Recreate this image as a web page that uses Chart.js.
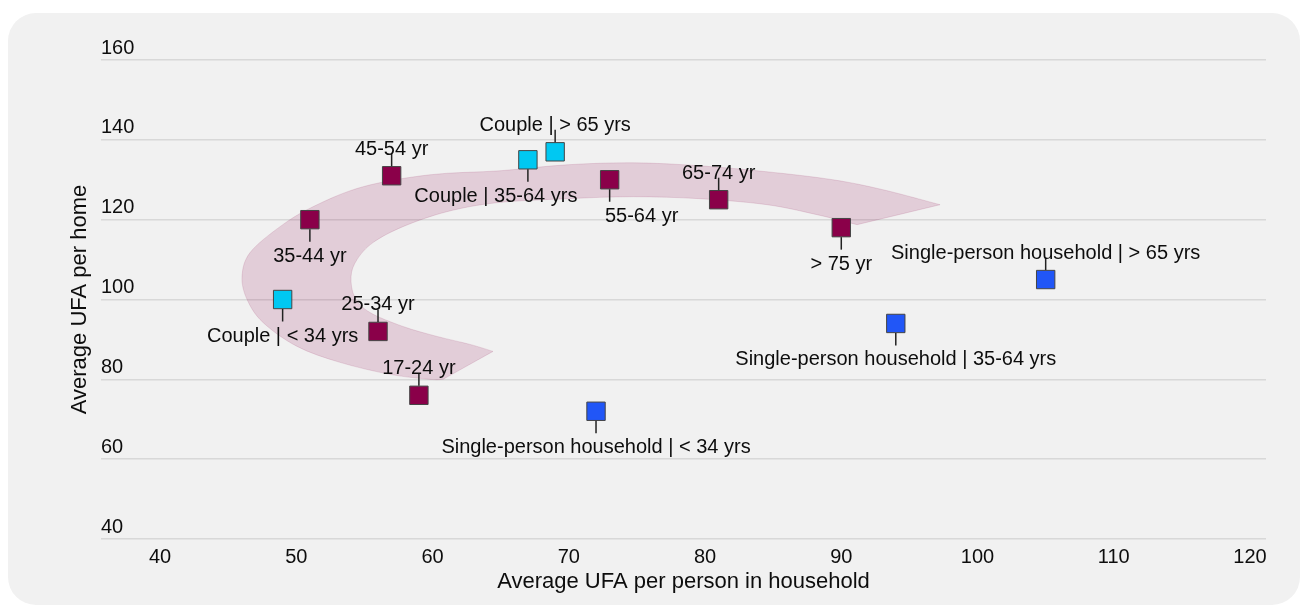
<!DOCTYPE html>
<html>
<head>
<meta charset="utf-8">
<script src="https://cdn.jsdelivr.net/npm/chart.js@4.4.1/dist/chart.umd.min.js"></script>
<style>
  html, body { margin: 0; padding: 0; background: #ffffff; width: 1300px; height: 607px; overflow: hidden; }
  .card { position: absolute; left: 8px; top: 13px; width: 1292px; height: 592px; background: #f1f1f1; border-radius: 28px; }
  #chart { position: absolute; left: 0; top: 0; }
</style>
</head>
<body>
<div class="card"></div>
<canvas id="chart" width="1300" height="607"></canvas>
<script>
// Age groups of the main occupant
const ageGroups      = ['17-24 yr', '25-34 yr', '35-44 yr', '45-54 yr', '55-64 yr', '65-74 yr', '> 75 yr'];
const ageUfaPerson   = [59, 56, 51, 57, 73, 81, 90];
const ageUfaHome     = [76, 92, 120, 131, 130, 125, 118];

// Couples by age
const coupleGroups    = ['Couple | < 34 yrs', 'Couple | 35-64 yrs', 'Couple | > 65 yrs'];
const coupleUfaPerson = [49, 67, 69];
const coupleUfaHome   = [100, 135, 137];

// Single-person households by age
const singleGroups    = ['Single-person household | < 34 yrs', 'Single-person household | 35-64 yrs', 'Single-person household | > 65 yrs'];
const singleUfaPerson = [72, 94, 105];
const singleUfaHome   = [72, 94, 105];

// Axis ticks
const xTicks = [40, 50, 60, 70, 80, 90, 100, 110, 120];
const yTicks = [40, 60, 80, 100, 120, 140, 160];

// Where each point's label sits (above / below the marker) and its sideways shift in px
const ageLabelSide    = ['above', 'above', 'below', 'above', 'below', 'above', 'below'];
const ageLabelShift   = [0, 0, 0, 0, 32, 0, 0];
const coupleLabelSide  = ['below', 'below', 'above'];
const coupleLabelShift = [0, -32, 0];
const singleLabelSide  = ['below', 'below', 'above'];
const singleLabelShift = [0, 0, 0];

// Life-course ribbon, outlined in axis units (UFA per person, UFA per home)
const ribbonOuter = [
  [97.25, 123.75], [93.06, 127.5], [89.39, 130], [84.55, 132], [79.63, 133.5], [74.72, 134.25],
  [69.87, 133.75], [64.95, 132.25], [59.82, 131.25], [54.9, 128.25], [51.23, 123.25], [48.81, 118.25],
  [46.61, 111.75], [46.02, 105.75], [46.39, 100], [47.56, 94.25], [50.06, 88.25], [53.21, 84.25],
  [56.88, 81.25], [59.82, 80], [60.77, 80]
];
const ribbonInner = [
  [64.44, 87], [62.75, 88.75], [60.33, 90.75], [57.83, 93.25], [55.41, 96.75], [54.3, 100.5],
  [54.02, 105.75], [54.46, 110], [55.63, 114.25], [57.83, 118.25], [61.06, 122], [64.73, 124.25],
  [69.87, 125.25], [74.72, 125.75], [79.63, 125.25], [84.55, 123.75], [88.22, 121.25], [91.16, 118.75]
];

const FONT = "'Liberation Sans', Arial, sans-serif";
const TEXT = '#0d0d0d';

function points(xs, ys, names) {
  return xs.map((x, i) => ({ x: x, y: ys[i], label: names[i] }));
}

function smoothEdge(ctx, pts, first) {
  if (first) ctx.moveTo(pts[0][0], pts[0][1]); else ctx.lineTo(pts[0][0], pts[0][1]);
  for (let i = 0; i < pts.length - 1; i++) {
    const p0 = pts[i - 1] || pts[i], p1 = pts[i], p2 = pts[i + 1], p3 = pts[i + 2] || pts[i + 1];
    ctx.bezierCurveTo(
      p1[0] + (p2[0] - p0[0]) / 6, p1[1] + (p2[1] - p0[1]) / 6,
      p2[0] - (p3[0] - p1[0]) / 6, p2[1] - (p3[1] - p1[1]) / 6,
      p2[0], p2[1]);
  }
}

const ribbonPlugin = {
  id: 'ribbon',
  beforeDatasetsDraw(chart) {
    const xs = chart.scales.x, ys = chart.scales.y, ctx = chart.ctx;
    const toPx = p => [xs.getPixelForValue(p[0]), ys.getPixelForValue(p[1])];
    ctx.save();
    ctx.beginPath();
    smoothEdge(ctx, ribbonOuter.map(toPx), true);
    smoothEdge(ctx, ribbonInner.map(toPx), false);
    ctx.closePath();
    ctx.fillStyle = 'rgba(139, 0, 72, 0.15)';
    ctx.fill();
    ctx.strokeStyle = 'rgba(139, 0, 72, 0.12)';
    ctx.lineWidth = 1;
    ctx.stroke();
    ctx.restore();
  }
};

const labelPlugin = {
  id: 'pointLabels',
  afterDatasetsDraw(chart) {
    const xs = chart.scales.x, ys = chart.scales.y, ctx = chart.ctx;
    ctx.save();
    ctx.font = '20px ' + FONT;
    ctx.textAlign = 'center';
    ctx.textBaseline = 'alphabetic';
    chart.data.datasets.forEach(ds => {
      ds.data.forEach((p, i) => {
        const px = xs.getPixelForValue(p.x), py = ys.getPixelForValue(p.y);
        const up = ds.labelSide[i] === 'above';
        const dir = up ? -1 : 1;
        ctx.strokeStyle = '#222';
        ctx.lineWidth = 1.5;
        ctx.beginPath();
        ctx.moveTo(px, py + dir * 9.5);
        ctx.lineTo(px, py + dir * 22);
        ctx.stroke();
        ctx.fillStyle = TEXT;
        ctx.fillText(p.label, px + ds.labelShift[i], up ? py - 21 : py + 42);
      });
    });
    ctx.restore();
  }
};

const marker = { pointStyle: 'rect', pointRadius: 13, pointHoverRadius: 13, borderColor: '#444', borderWidth: 1 };

new Chart(document.getElementById('chart'), {
  type: 'scatter',
  data: {
    datasets: [
      Object.assign({ label: 'Age group', data: points(ageUfaPerson, ageUfaHome, ageGroups),
        backgroundColor: '#8a0049', labelSide: ageLabelSide, labelShift: ageLabelShift }, marker),
      Object.assign({ label: 'Couple', data: points(coupleUfaPerson, coupleUfaHome, coupleGroups),
        backgroundColor: '#00c8f2', labelSide: coupleLabelSide, labelShift: coupleLabelShift }, marker),
      Object.assign({ label: 'Single-person household', data: points(singleUfaPerson, singleUfaHome, singleGroups),
        backgroundColor: '#2156f7', labelSide: singleLabelSide, labelShift: singleLabelShift }, marker)
    ]
  },
  options: {
    responsive: false,
    animation: false,
    devicePixelRatio: 1,
    layout: { padding: { left: 66.8, right: 34, top: 60, bottom: 11.8 } },
    plugins: { legend: { display: false }, tooltip: { enabled: false } },
    font: { family: FONT },
    scales: {
      x: {
        type: 'linear',
        min: 35.67,
        max: 121.17,
        afterBuildTicks: s => { s.ticks = xTicks.map(v => ({ value: v })); },
        grid: { display: false, drawTicks: false },
        border: { display: false },
        ticks: { padding: 6, color: TEXT, font: { family: FONT, size: 20 } },
        title: { display: true, text: 'Average UFA per person in household', color: TEXT,
                 font: { family: FONT, size: 22 }, padding: { top: -6.2, bottom: 0 } }
      },
      y: {
        type: 'linear',
        min: 40,
        max: 160,
        afterBuildTicks: s => { s.ticks = yTicks.map(v => ({ value: v })); },
        grid: { color: '#d8d8d8', lineWidth: 1.5, drawTicks: false },
        border: { display: false },
        ticks: { mirror: true, padding: 0, labelOffset: -12, color: TEXT, font: { family: FONT, size: 20 } },
        title: { display: true, text: 'Average UFA per home', color: TEXT,
                 font: { family: FONT, size: 22 }, padding: { top: 0, bottom: 7.8 } }
      }
    }
  },
  plugins: [ribbonPlugin, labelPlugin]
});
</script>
</body>
</html>
